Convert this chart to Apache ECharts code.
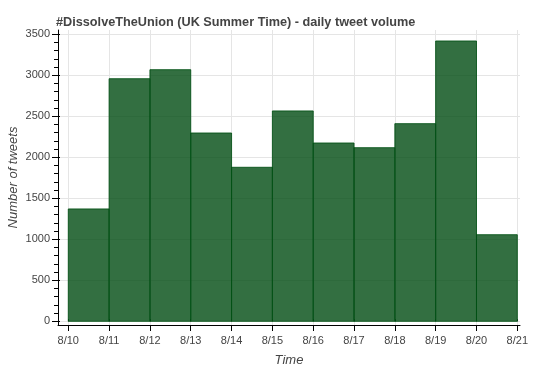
<!DOCTYPE html>
<html>
<head>
<meta charset="utf-8">
<script src="https://cdn.jsdelivr.net/npm/echarts@6/dist/echarts.min.js"></script>
<style>
html,body{margin:0;padding:0;background:#fff;}
#chart{width:550px;height:370px;}
</style>
</head>
<body>
<div id="chart"></div>
<script>
// Data
const dayStarts = [10, 11, 12, 13, 14, 15, 16, 17, 18, 19, 20];
const tweetVolume = [1370, 2958, 3068, 2296, 1878, 2565, 2174, 2117, 2410, 3418, 1056];
const xTickValues = [10, 11, 12, 13, 14, 15, 16, 17, 18, 19, 20, 21];
const xTickLabels = ['8/10', '8/11', '8/12', '8/13', '8/14', '8/15', '8/16', '8/17', '8/18', '8/19', '8/20', '8/21'];
const yTickValues = [0, 500, 1000, 1500, 2000, 2500, 3000, 3500];
const yMinorTickValues = [];
for (let v = 0; v <= 3500; v += 100) yMinorTickValues.push(v);

const FONT = '"Liberation Sans", Arial, Helvetica, sans-serif';
const chart = echarts.init(document.getElementById('chart'), null, {renderer: 'canvas'});

const yRange = {min: -45, max: 3552};
const baseY = {
  type: 'value', min: yRange.min, max: yRange.max, position: 'left'
};

chart.setOption({
  animation: false,
  backgroundColor: '#ffffff',
  title: {
    text: '#DissolveTheUnion (UK Summer Time) - daily tweet volume',
    left: 51, top: 11,
    textStyle: {fontFamily: FONT, fontSize: 12.7, fontWeight: 'bold', color: '#444444'}
  },
  grid: {left: 58, right: 30, top: 30, bottom: 45, containLabel: false, outerBoundsMode: 'none'},
  xAxis: [{
    type: 'value', min: 9.748, max: 21.066,
    name: 'Time', nameLocation: 'middle', nameGap: 29, nameMoveOverlap: false,
    nameTextStyle: {fontFamily: FONT, fontSize: 13, fontStyle: 'italic', color: '#444444'},
    axisLine: {show: true, onZero: false, lineStyle: {color: '#000', width: 1}},
    axisTick: {show: true, customValues: xTickValues, length: 6, lineStyle: {color: '#000'}},
    axisLabel: {
      customValues: xTickValues, fontFamily: FONT, fontSize: 11, color: '#444444', margin: 10,
      formatter: v => xTickLabels[xTickValues.indexOf(Math.round(v))]
    },
    splitLine: {show: true, lineStyle: {color: '#e5e5e5', width: 1}},
    minorTick: {show: false}
  }, {
    type: 'value', min: 9.748, max: 21.066, position: 'bottom',
    axisLine: {show: false},
    axisTick: {show: true, inside: true, customValues: xTickValues, length: 2, lineStyle: {color: '#000'}},
    axisLabel: {show: false}, splitLine: {show: false}
  }],
  yAxis: [Object.assign({}, baseY, {
    name: 'Number of tweets', nameLocation: 'middle', nameGap: 38, nameMoveOverlap: false,
    nameTextStyle: {fontFamily: FONT, fontSize: 13, fontStyle: 'italic', color: '#444444'},
    axisLine: {show: true, onZero: false, lineStyle: {color: '#000', width: 1}},
    axisTick: {show: true, customValues: yTickValues, length: 6, lineStyle: {color: '#000'}},
    axisLabel: {customValues: yTickValues, fontFamily: FONT, fontSize: 11, color: '#444444', margin: 8,
      formatter: v => String(Math.round(v))},
    splitLine: {show: true, lineStyle: {color: '#e5e5e5', width: 1}}
  }), Object.assign({}, baseY, {
    axisLine: {show: false},
    axisTick: {show: true, customValues: yMinorTickValues, length: 4, lineStyle: {color: '#000'}},
    axisLabel: {show: false}, splitLine: {show: false}
  }), Object.assign({}, baseY, {
    axisLine: {show: false},
    axisTick: {show: true, inside: true, customValues: yTickValues, length: 2, lineStyle: {color: '#000'}},
    axisLabel: {show: false}, splitLine: {show: false}
  })],
  series: [{
    type: 'custom',
    xAxisIndex: 0, yAxisIndex: 0,
    data: dayStarts.map((d, i) => [d, tweetVolume[i]]),
    renderItem: function (params, api) {
      const x0 = api.value(0);
      const v = api.value(1);
      const p1 = api.coord([x0, v]);
      const p2 = api.coord([x0 + 1, 0]);
      return {
        type: 'rect',
        shape: {x: p1[0], y: p1[1], width: p2[0] - p1[0], height: p2[1] - p1[1]},
        style: {fill: 'rgba(0,75,17,0.8)', stroke: 'rgba(0,80,20,0.85)', lineWidth: 1}
      };
    },
    z: 3
  }]
});
</script>
</body>
</html>
